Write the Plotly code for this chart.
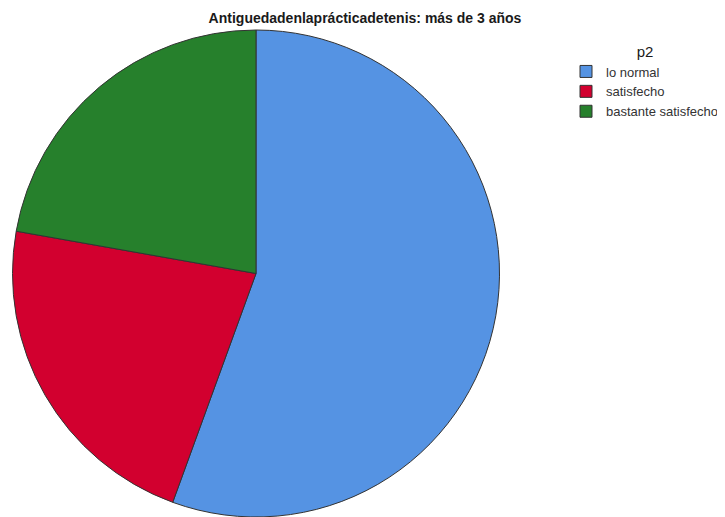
import plotly.graph_objects as go

categories = ["lo normal", "satisfecho", "bastante satisfecho"]
values = [5, 2, 2]
colors = ["#5593E3", "#D2002F", "#26802C"]

OFF = 8  # browser body margin offset
W, H = 725 - OFF, 517 - OFF


def px_x(p):
    return (p - OFF) / W


def px_y(p):
    return 1 - (p - OFF) / H


fig = go.Figure(go.Pie(
    labels=categories,
    values=values,
    sort=False,
    direction="clockwise",
    rotation=0,
    marker=dict(colors=colors, line=dict(color="#333333", width=1)),
    textinfo="none",
    hoverinfo="label+value+percent",
    domain=dict(x=[px_x(12), px_x(500)], y=[max(0, px_y(517)), px_y(30)]),
))

fig.update_layout(
    width=W, height=H,
    margin=dict(l=0, r=0, t=0, b=0),
    paper_bgcolor="white",
    plot_bgcolor="white",
    title=dict(
        text="<b>Antiguedadenlaprácticadetenis: más de 3 años</b>",
        x=px_x(365), xanchor="center", y=px_y(18), yanchor="middle",
        font=dict(family="Liberation Sans", size=14, color="#1a1a1a"),
    ),
    legend=dict(
        title=dict(text="p2", side="top center",
                   font=dict(family="Liberation Sans", size=15, color="#1a1a1a")),
        x=px_x(566), xanchor="left", y=px_y(37), yanchor="top",
        font=dict(family="Liberation Sans", size=13, color="#333333"),
        itemwidth=30, tracegroupgap=0,
        bgcolor="rgba(0,0,0,0)",
    ),
)

fig.write_html("out.html")
